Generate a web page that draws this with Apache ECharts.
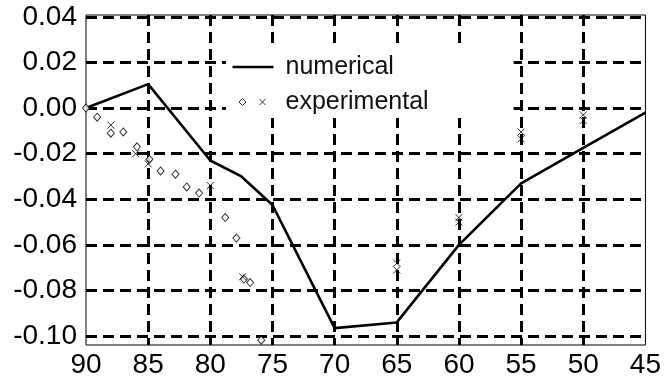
<!DOCTYPE html>
<html>
<head>
<meta charset="utf-8">
<script src="https://cdn.jsdelivr.net/npm/echarts@6/dist/echarts.min.js"></script>
<style>
html,body{margin:0;padding:0;background:#fff;}
#chart{width:664px;height:382px;}
</style>
</head>
<body>
<div id="chart"></div>
<script>
// ---- data ----
const xTickValues = [90, 85, 80, 75, 70, 65, 60, 55, 50, 45];
const yTickLabels = ['0.04', '0.02', '0.00', '-0.02', '-0.04', '-0.06', '-0.08', '-0.10'];

const numericalX = [90, 85, 80, 77.5, 75, 70, 65, 60, 55, 50, 45];
const numericalY = [0.000, 0.0105, -0.023, -0.030, -0.0425, -0.0965, -0.0940, -0.0600, -0.0330, -0.0175, -0.0020];

const expDiamondX = [90, 89.1, 88, 87, 85.9, 84.9, 84, 82.8, 81.9, 80.9, 78.8, 77.9, 77.3, 76.8, 75.9];
const expDiamondY = [0.000, -0.004, -0.011, -0.0105, -0.017, -0.0224, -0.0276, -0.029, -0.0346, -0.0373, -0.048, -0.057, -0.0750, -0.0765, -0.1018];

const expCrossX = [88, 86, 85, 80, 77.4, 65, 65, 60, 60, 55, 55, 50, 50];
const expCrossY = [-0.0075, -0.020, -0.0245, -0.034, -0.074, -0.068, -0.071, -0.048, -0.050, -0.0105, -0.0135, -0.003, -0.0055];

const seriesNames = ['numerical', 'experimental'];

function zip(a, b) { return a.map((v, i) => [v, b[i]]); }

const chart = echarts.init(document.getElementById('chart'), null, {renderer: 'canvas'});
const FONT = '"Liberation Sans", Arial, sans-serif';
const gridDash = {color: '#000', width: 3, type: [11, 6]};

const option = {
  backgroundColor: '#fff',
  animation: false,
  grid: {left: 86, right: 18, top: 15, bottom: 37, show: true, borderColor: '#000', borderWidth: 1, backgroundColor: 'transparent'},
  xAxis: {
    type: 'value', inverse: true, min: 45, max: 90, interval: 5,
    axisLine: {show: false}, axisTick: {show: false},
    splitLine: {show: true, showMinLine: false, showMaxLine: false, lineStyle: gridDash},
    axisLabel: {
      color: '#000', fontFamily: FONT, fontSize: 28, margin: 6,
      formatter: v => (xTickValues.indexOf(Math.round(v)) >= 0 ? String(Math.round(v)) : '')
    }
  },
  yAxis: {
    type: 'value', min: -0.1039, max: 0.0408, splitNumber: 7,
    axisLine: {show: false}, axisTick: {show: false},
    splitLine: {show: true, showMinLine: false, showMaxLine: false, lineStyle: gridDash},
    axisLabel: {
      color: '#000', fontFamily: FONT, fontSize: 28, margin: 9,
      showMinLabel: false, showMaxLabel: false,
      formatter: v => {
        const s = v.toFixed(2);
        const t = (s === '-0.00') ? '0.00' : s;
        return yTickLabels.indexOf(t) >= 0 ? t : '';
      }
    }
  },
  legend: {
    left: 226, top: 45, orient: 'vertical',
    backgroundColor: '#fff', padding: [7, 85, 1, 6],
    itemWidth: 41, itemHeight: 7, itemGap: 5,
    textStyle: {color: '#111', fontFamily: FONT, fontSize: 25, lineHeight: 30, padding: [0, 0, 0, 7]},
    data: [
      {name: seriesNames[0], icon: 'path://M0,0L41,0L41,2.5L0,2.5Z', itemStyle: {color: '#000', borderWidth: 0}},
      {name: seriesNames[1], icon: 'path://M0,3.5L0.01,3.5M6.5,3.5L10,0L13.5,3.5L10,7ZM27,0.5L33,6.5M33,0.5L27,6.5M40.99,3.5L41,3.5',
        itemStyle: {color: '#fff', borderColor: '#000', borderWidth: 1}}
    ]
  },
  series: [
    {
      name: seriesNames[0], type: 'line', data: zip(numericalX, numericalY),
      showSymbol: false, symbol: 'none', z: 5,
      lineStyle: {color: '#000', width: 2.6}, itemStyle: {color: '#000'}
    },
    {
      name: seriesNames[1], type: 'scatter', data: zip(expDiamondX, expDiamondY),
      symbol: 'diamond', symbolSize: [7, 8], z: 6,
      itemStyle: {color: '#fff', borderColor: '#000', borderWidth: 1}
    },
    {
      name: seriesNames[1], type: 'scatter', data: zip(expCrossX, expCrossY),
      symbol: 'path://M0,0L10,10M10,0L0,10', symbolSize: 7, z: 6,
      itemStyle: {color: 'transparent', borderColor: '#000', borderWidth: 1}
    }
  ]
};
chart.setOption(option);
</script>
</body>
</html>
